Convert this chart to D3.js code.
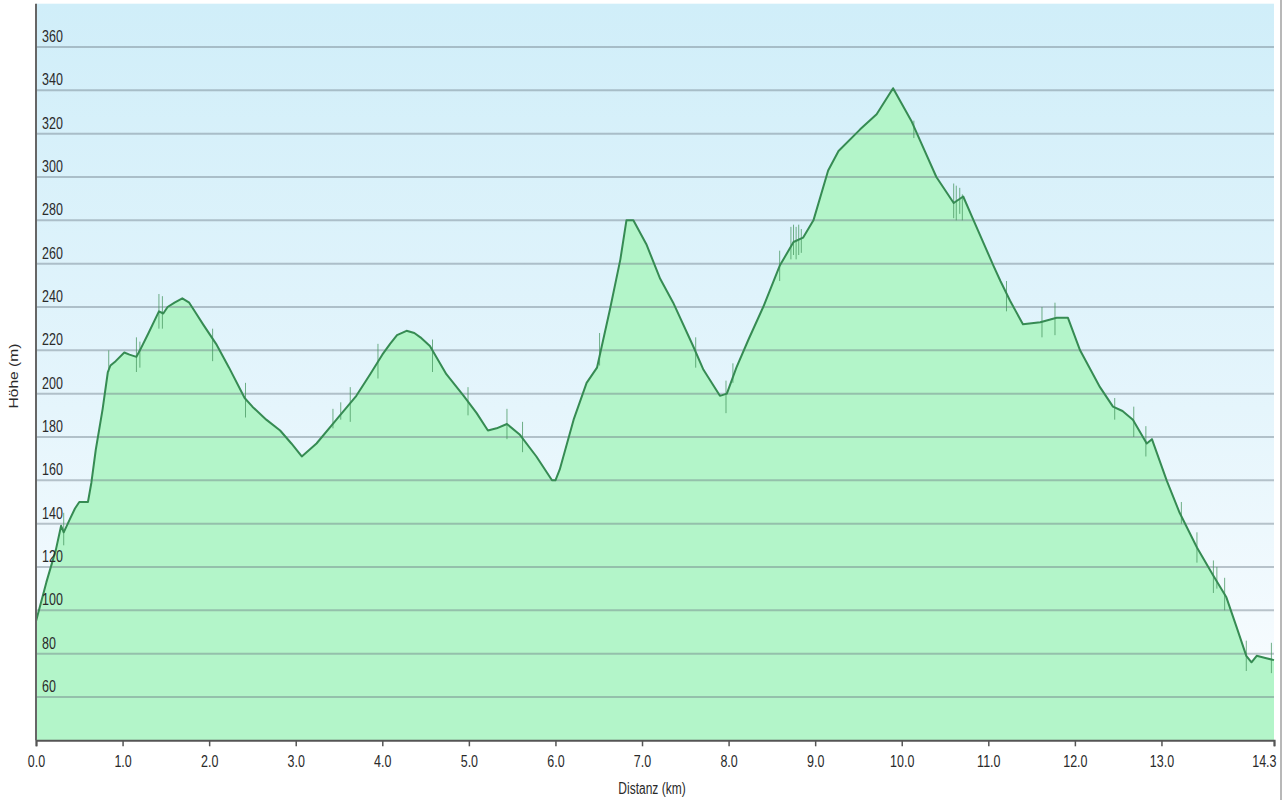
<!DOCTYPE html>
<html>
<head>
<meta charset="utf-8">
<script src="https://cdn.jsdelivr.net/npm/d3@7"></script>
<style>
  html, body { margin: 0; padding: 0; background: #ffffff; }
  svg { display: block; }
  text { font-family: "Liberation Sans", Arial, sans-serif; fill: #2a2a2a; }
</style>
</head>
<body>
<svg id="chart" width="1283" height="800"></svg>
<script>
// ---- data (distance in km, elevation in m) ----
const distanceKm = [0.00,0.12,0.23,0.29,0.32,0.39,0.45,0.50,0.60,0.64,0.69,0.77,0.83,0.86,0.92,1.02,1.08,1.16,1.20,1.30,1.42,1.47,1.52,1.60,1.69,1.77,1.85,1.93,2.08,2.23,2.41,2.50,2.66,2.82,2.95,3.07,3.24,3.47,3.70,3.86,4.00,4.09,4.17,4.28,4.37,4.44,4.55,4.74,4.94,5.09,5.22,5.32,5.44,5.59,5.78,5.96,6.00,6.05,6.21,6.36,6.48,6.63,6.75,6.82,6.90,7.05,7.21,7.36,7.59,7.71,7.90,7.98,8.09,8.23,8.40,8.59,8.75,8.86,8.98,9.15,9.27,9.52,9.71,9.90,10.11,10.21,10.40,10.60,10.71,10.83,11.06,11.14,11.25,11.40,11.60,11.79,11.92,12.06,12.29,12.44,12.55,12.67,12.83,12.89,13.06,13.21,13.41,13.60,13.75,13.87,13.98,14.04,14.10,14.20,14.30];
const elevationM = [95,113,128,139,136,142,147,150,150,159,174,193,210,213,215,219,218,217,220,228,238,237,240,242,244,242,237,232,223,212,198,194,188,183,177,171,177,188,199,209,218,223,227,229,228,226,222,209,199,191,183,184,186,181,171,160,160,165,188,205,212,239,262,280,280,269,253,242,222,211,199,200,212,225,240,259,270,272,280,303,312,322,329,341,326,317,300,288,291,280,259,252,243,232,233,235,235,220,203,194,192,188,177,179,160,145,129,116,106,92,79,76,79,78,77];

// GPS noise spikes: distance, low, high
const spikeKm   = [0.32,0.84,1.16,1.20,1.42,1.46,2.04,2.42,3.43,3.52,3.63,3.95,4.58,4.99,5.44,5.62,6.51,7.62,7.97,8.05,8.59,8.72,8.75,8.78,8.81,8.84,10.14,10.60,10.63,10.67,10.70,11.21,11.62,11.77,12.46,12.68,12.82,13.23,13.41,13.60,13.64,13.73,13.98,14.27];
const spikeLow  = [130,210,210,212,230,230,215,189,184,188,187,207,210,190,179,173,213,212,191,205,252,262,264,262,264,265,318,281,280,283,280,238,226,227,188,180,171,140,122,108,110,100,72,71];
const spikeHigh = [145,220,226,224,246,245,230,205,193,196,203,223,225,203,193,187,228,226,206,214,266,277,278,277,278,276,326,297,296,295,292,252,240,242,198,194,185,150,136,123,120,115,86,85];

const yTicks = [60,80,100,120,140,160,180,200,220,240,260,280,300,320,340,360];
const xTicks = [0,1,2,3,4,5,6,7,8,9,10,11,12,13,14.3];
const xTickLabels = ["0.0","1.0","2.0","3.0","4.0","5.0","6.0","7.0","8.0","9.0","10.0","11.0","12.0","13.0","14.3"];
const xTitle = "Distanz  (km)";
const yTitle = "Höhe (m)";

// ---- layout ----
const svg = d3.select("#chart");
const x = d3.scaleLinear().domain([0, 14.3]).range([36, 1274]);
const y = d3.scaleLinear().domain([40, 380]).range([740.3, 3.7]);

const defs = svg.append("defs");
const grad = defs.append("linearGradient").attr("id","bg").attr("x1",0).attr("y1",0).attr("x2",0).attr("y2",1);
grad.append("stop").attr("offset","0%").attr("stop-color","#d0eef9");
grad.append("stop").attr("offset","55%").attr("stop-color","#e5f5fc");
grad.append("stop").attr("offset","100%").attr("stop-color","#fbfdff");

svg.append("rect")
  .attr("x", x(0)).attr("y", y(380))
  .attr("width", x(14.3) - x(0)).attr("height", y(40) - y(380))
  .attr("fill", "url(#bg)");

const pts = distanceKm.map((d,i) => [d, elevationM[i]]);

svg.append("path")
  .datum(pts)
  .attr("fill", "#b3f5c9")
  .attr("d", d3.area().x(d => x(d[0])).y0(y(40)).y1(d => y(d[1])));

// gridlines on top of the area
svg.append("g").selectAll("line").data(yTicks).join("line")
  .attr("x1", x(0)).attr("x2", x(14.3))
  .attr("y1", d => y(d)).attr("y2", d => y(d))
  .attr("stroke", "rgba(105,120,130,0.42)").attr("stroke-width", 2);

// spikes
svg.append("g").selectAll("line").data(spikeKm).join("line")
  .attr("x1", d => x(d)).attr("x2", d => x(d))
  .attr("y1", (d,i) => y(spikeLow[i])).attr("y2", (d,i) => y(spikeHigh[i]))
  .attr("stroke", "rgba(70,150,95,0.75)").attr("stroke-width", 1);

svg.append("path")
  .datum(pts)
  .attr("fill", "none")
  .attr("stroke", "#368b53")
  .attr("stroke-width", 2)
  .attr("stroke-linejoin", "round")
  .attr("d", d3.line().x(d => x(d[0])).y(d => y(d[1])));

// y tick labels inside plot
svg.append("g").selectAll("text").data(yTicks).join("text")
  .attr("transform", d => `translate(42,${y(d) - 5}) scale(1,1.3)`)
  .attr("font-size", 12.5)
  .text(d => d);

// axes
const xAxis = d3.axisBottom(x).tickValues(xTicks).tickSize(6).tickFormat((d,i) => xTickLabels[i]);
const gx = svg.append("g").attr("transform", `translate(0,${y(40)})`).call(xAxis);
gx.select(".domain").attr("stroke", "#555").attr("stroke-width", 2);
gx.selectAll(".tick line").attr("stroke", "#555").attr("stroke-width", 1.5);
gx.selectAll(".tick text")
  .attr("font-family", "Liberation Sans, Arial, sans-serif")
  .attr("font-size", 12.5).attr("fill", "#2a2a2a")
  .attr("y", 0).attr("dy", 0)
  .attr("transform", "translate(0,27) scale(1,1.3)")
  .attr("text-anchor", (d,i) => i === xTicks.length - 1 ? "end" : "middle")
  .attr("x", (d,i) => i === xTicks.length - 1 ? 2 : 0);

svg.append("line")
  .attr("x1", x(0)).attr("x2", x(0)).attr("y1", y(380)).attr("y2", y(40))
  .attr("stroke", "#666").attr("stroke-width", 2);

// right frame line
svg.append("line")
  .attr("x1", 1281).attr("x2", 1281).attr("y1", 0).attr("y2", 800)
  .attr("stroke", "#a0a0a0").attr("stroke-width", 1.5);

// titles
svg.append("text")
  .attr("transform", "translate(652,794) scale(1,1.3)")
  .attr("text-anchor", "middle").attr("font-size", 12)
  .text(xTitle);
svg.append("text")
  .attr("transform", "translate(18,376) rotate(-90) scale(1.3,1)")
  .attr("text-anchor", "middle").attr("font-size", 12)
  .text(yTitle);
</script>
</body>
</html>
